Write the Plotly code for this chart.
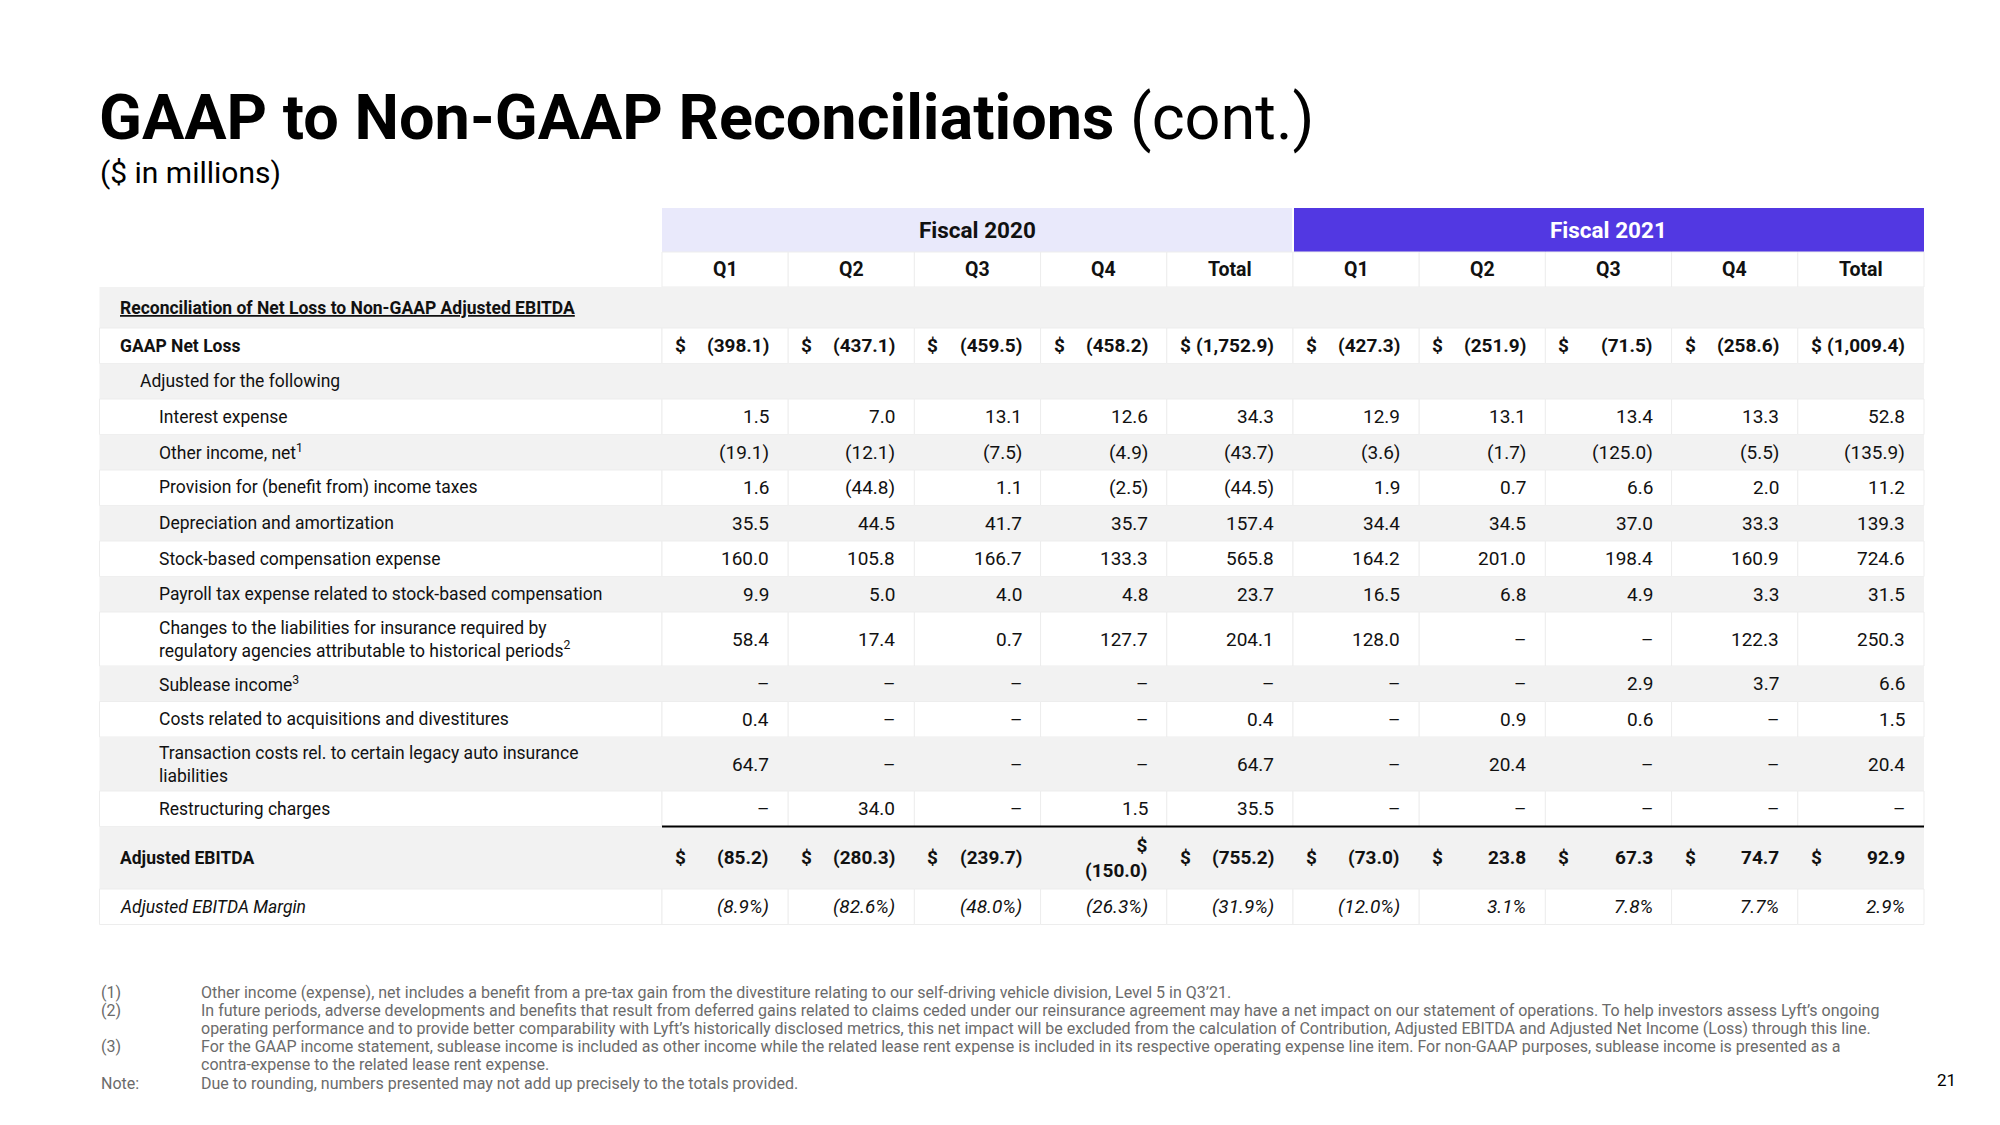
import plotly.graph_objects as go

# ---------------- data ----------------
title_bold = "GAAP to Non-GAAP Reconciliations"
title_rest = " (cont.)"
subtitle = "($ in millions)"
fiscal_years = ["Fiscal 2020", "Fiscal 2021"]
periods = ["Q1", "Q2", "Q3", "Q4", "Total"]

row_labels = [
    "Reconciliation of Net Loss to Non-GAAP Adjusted EBITDA",
    "GAAP Net Loss",
    "Adjusted for the following",
    "Interest expense",
    "Other income, net<sup>1</sup>",
    "Provision for (benefit from) income taxes",
    "Depreciation and amortization",
    "Stock-based compensation expense",
    "Payroll tax expense related to stock-based compensation",
    "Changes to the liabilities for insurance required by<br>regulatory agencies attributable to historical periods<sup>2</sup>",
    "Sublease income<sup>3</sup>",
    "Costs related to acquisitions and divestitures",
    "Transaction costs rel. to certain legacy auto insurance<br>liabilities",
    "Restructuring charges",
    "Adjusted EBITDA",
    "Adjusted EBITDA Margin",
]

# columns: FY2020 Q1..Q4, Total, FY2021 Q1..Q4, Total
gaap_net_loss = [-398.1, -437.1, -459.5, -458.2, -1752.9, -427.3, -251.9, -71.5, -258.6, -1009.4]
interest_expense = [1.5, 7.0, 13.1, 12.6, 34.3, 12.9, 13.1, 13.4, 13.3, 52.8]
other_income_net = [-19.1, -12.1, -7.5, -4.9, -43.7, -3.6, -1.7, -125.0, -5.5, -135.9]
income_taxes = [1.6, -44.8, 1.1, -2.5, -44.5, 1.9, 0.7, 6.6, 2.0, 11.2]
depreciation_amortization = [35.5, 44.5, 41.7, 35.7, 157.4, 34.4, 34.5, 37.0, 33.3, 139.3]
stock_based_comp = [160.0, 105.8, 166.7, 133.3, 565.8, 164.2, 201.0, 198.4, 160.9, 724.6]
payroll_tax_sbc = [9.9, 5.0, 4.0, 4.8, 23.7, 16.5, 6.8, 4.9, 3.3, 31.5]
insurance_liability_changes = [58.4, 17.4, 0.7, 127.7, 204.1, 128.0, None, None, 122.3, 250.3]
sublease_income = [None, None, None, None, None, None, None, 2.9, 3.7, 6.6]
acquisition_costs = [0.4, None, None, None, 0.4, None, 0.9, 0.6, None, 1.5]
transaction_costs = [64.7, None, None, None, 64.7, None, 20.4, None, None, 20.4]
restructuring_charges = [None, 34.0, None, 1.5, 35.5, None, None, None, None, None]
adjusted_ebitda = [-85.2, -280.3, -239.7, -150.0, -755.2, -73.0, 23.8, 67.3, 74.7, 92.9]
adjusted_ebitda_margin = [-8.9, -82.6, -48.0, -26.3, -31.9, -12.0, 3.1, 7.8, 7.7, 2.9]

footnote_marks = ["(1)", "(2)", "(3)", "Note:"]
footnote_texts = [
    "Other income (expense), net includes a benefit from a pre-tax gain from the divestiture relating to our self-driving vehicle division, Level 5 in Q3’21.",
    "In future periods, adverse developments and benefits that result from deferred gains related to claims ceded under our reinsurance agreement may have a net impact on our statement of operations. To help investors assess Lyft’s ongoing<br>operating performance and to provide better comparability with Lyft’s historically disclosed metrics, this net impact will be excluded from the calculation of Contribution, Adjusted EBITDA and Adjusted Net Income (Loss) through this line.",
    "For the GAAP income statement, sublease income is included as other income while the related lease rent expense is included in its respective operating expense line item. For non-GAAP purposes, sublease income is presented as a<br>contra-expense to the related lease rent expense.",
    "Due to rounding, numbers presented may not add up precisely to the totals provided.",
]
page_number = "21"

row_values = [
    None, gaap_net_loss, None, interest_expense, other_income_net, income_taxes,
    depreciation_amortization, stock_based_comp, payroll_tax_sbc,
    insurance_liability_changes, sublease_income, acquisition_costs,
    transaction_costs, restructuring_charges, adjusted_ebitda, adjusted_ebitda_margin,
]

# ---------------- layout constants ----------------
W, H = 2000, 1125
PAGE_OFFSET = 8  # default body margin of the html page
FONT = "Roboto"
TXT = "#111111"
GRAY = "#F2F2F2"
LAV = "#E9E9FB"
PURPLE = "#5238E2"
X_TABLE = 99.5
X_DATA = 662.0
COL_W = 126.2
Y_FISCAL = 208.0
Y_Q = 252.0
Y_BODY = 287.0
row_heights = [41, 35.5, 35.5, 35.5, 35.5, 35.5, 35.5, 35.5, 35.5, 54, 35.5, 35.5, 54, 35.5, 62.5, 35.5]
label_x = [119, 119, 139] + [158] * 11 + [119, 119]
dollar_rows = {1, 14}
bold_rows = {1, 14}
italic_rows = {15}
pct_rows = {15}
wrap_cells = {(14, 3)}
n_cols = len(periods) * len(fiscal_years)
X_END = X_DATA + COL_W * n_cols
VAL_SIZE = 19
LAB_SIZE = 17.5


def fmt(v, pct=False):
    if v is None:
        return "–"
    s = f"{abs(v):,.1f}" + ("%" if pct else "")
    return f"({s})" if v < 0 else s


shapes = []
ann = []


def text(x, y, t, size=17, anchor="left", bold=False, italic=False, color=TXT,
         family=FONT, yanchor="middle", align=None, extra=None):
    font = dict(family=family, size=size, color=color)
    if bold:
        font["weight"] = 700
    if italic:
        font["style"] = "italic"
    if extra:
        font.update(extra)
    ann.append(dict(x=x, y=y, xref="x", yref="y", text=t, showarrow=False,
                    xanchor=anchor, yanchor=yanchor, font=font,
                    align=align or ("center" if anchor == "center" else anchor),
                    borderpad=0))


def rect(x0, y0, x1, y1, fill, line="rgba(0,0,0,0)", lw=0):
    shapes.append(dict(type="rect", xref="x", yref="y", x0=x0, y0=y0, x1=x1, y1=y1,
                       fillcolor=fill, line=dict(color=line, width=lw), layer="below"))


# title
text(X_TABLE - 2, 117, f"<b>{title_bold}</b>{title_rest}", size=63, color="#000000")
text(X_TABLE - 1, 172, subtitle, size=30, color="#000000")

# fiscal bands
band_w = COL_W * len(periods)
rect(X_DATA, Y_FISCAL, X_DATA + band_w - 1, Y_Q, LAV)
rect(X_DATA + band_w + 1, Y_FISCAL, X_DATA + 2 * band_w, Y_Q, PURPLE)
for i, fy in enumerate(fiscal_years):
    text(X_DATA + band_w * (i + 0.5), (Y_FISCAL + Y_Q) / 2, fy, size=22.5, anchor="center",
         bold=True, color=TXT if i == 0 else "#FFFFFF")

# period header
for c in range(n_cols):
    x0 = X_DATA + c * COL_W
    rect(x0, Y_Q, x0 + COL_W, Y_BODY, "#FFFFFF", "#EDEDED", 1)
    text(x0 + COL_W / 2, (Y_Q + Y_BODY) / 2, periods[c % len(periods)], size=19.5,
         anchor="center", bold=True)

# body
y = Y_BODY
for r, label in enumerate(row_labels):
    h = row_heights[r]
    y0, y1 = y, y + h
    ym = (y0 + y1) / 2
    gray = (r % 2 == 0)
    if gray:
        rect(X_TABLE, y0, X_END, y1, GRAY)
    else:
        rect(X_TABLE, y0, X_DATA, y1, "#FFFFFF", "#EDEDED", 1)
        for c in range(n_cols):
            x0 = X_DATA + c * COL_W
            rect(x0, y0, x0 + COL_W, y1, "#FFFFFF", "#EDEDED", 1)

    if r == 0:
        text(label_x[r], ym, label, size=17.5, bold=True, extra={"lineposition": "under"})
    else:
        text(label_x[r], ym, label, size=LAB_SIZE, bold=(r in bold_rows), italic=(r in italic_rows))

    vals = row_values[r]
    if vals is not None:
        for c, v in enumerate(vals):
            x0 = X_DATA + c * COL_W
            s = fmt(v, r in pct_rows)
            if (r, c) in wrap_cells:
                text(x0 + COL_W - 18, ym, "$<br>" + s, size=VAL_SIZE, anchor="right",
                     bold=(r in bold_rows), align="right")
                continue
            text(x0 + COL_W - 18, ym, s, size=VAL_SIZE, anchor="right",
                 bold=(r in bold_rows), italic=(r in italic_rows))
            if r in dollar_rows:
                text(x0 + 12, ym, "$", size=VAL_SIZE, anchor="left", bold=True)
    y = y1

# total rule above Adjusted EBITDA
y_rule = Y_BODY + sum(row_heights[:14])
shapes.append(dict(type="line", xref="x", yref="y", x0=X_DATA, x1=X_END, y0=y_rule, y1=y_rule,
                   line=dict(color="#000000", width=2)))

# footnotes
NOTE_C = "#6B6B6B"
NOTE_SIZE = 16
line_pitch = 18.2
line_idx = 0
for m, t in zip(footnote_marks, footnote_texts):
    parts = t.split("<br>")
    text(X_TABLE, 992 + line_pitch * line_idx, m, size=NOTE_SIZE, color=NOTE_C)
    for p in parts:
        text(200, 992 + line_pitch * line_idx, p, size=NOTE_SIZE, color=NOTE_C)
        line_idx += 1

text(1946, 1080, page_number, size=17, anchor="center", color="#000000")

fig = go.Figure()
fig.add_trace(go.Scatter(x=[0, W], y=[0, H], mode="markers", marker=dict(opacity=0),
                         hoverinfo="skip", showlegend=False))
fig.update_layout(
    width=W, height=H, margin=dict(l=0, r=0, t=0, b=0),
    paper_bgcolor="#FFFFFF", plot_bgcolor="#FFFFFF",
    xaxis=dict(range=[PAGE_OFFSET, W + PAGE_OFFSET], visible=False, fixedrange=True),
    yaxis=dict(range=[H + PAGE_OFFSET, PAGE_OFFSET], visible=False, fixedrange=True),
    shapes=shapes, annotations=ann, showlegend=False,
)
fig.write_html("out.html")
